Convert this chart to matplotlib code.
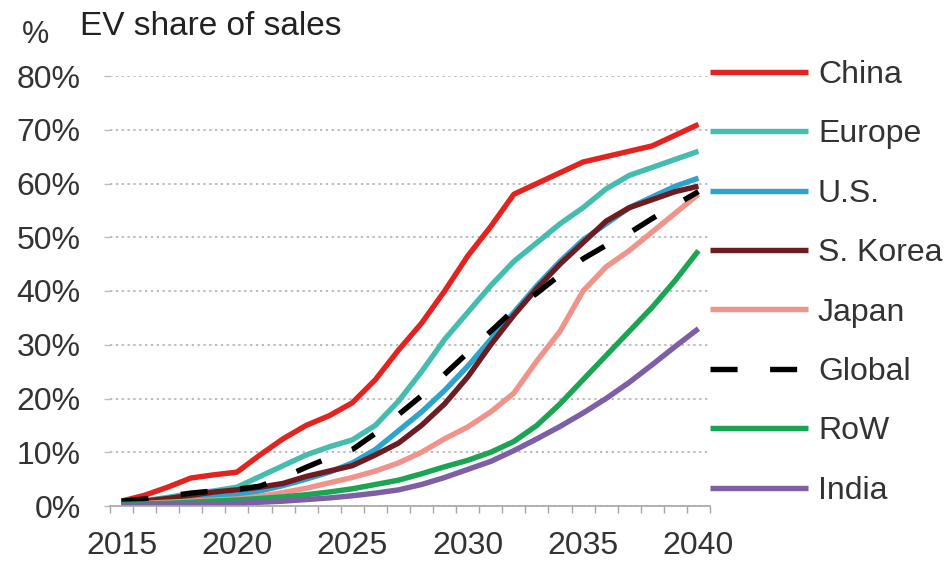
import matplotlib
matplotlib.use('Agg')
import matplotlib.pyplot as plt
from matplotlib.ticker import FixedLocator, FuncFormatter

plt.rcParams['font.family'] = ['Liberation Sans', 'DejaVu Sans']

YEARS = list(range(2015, 2041))

CHINA = [0.9, 2.0, 3.5, 5.2, 5.8, 6.3, 9.5, 12.5, 15.0, 16.8, 19.2, 23.5, 29.0, 34.0,
         40.0, 46.5, 52.0, 58.0, 60.0, 62.0, 64.0, 65.0, 66.0, 67.0, 69.0, 71.0]
EUROPE = [0.6, 1.0, 1.6, 2.3, 2.8, 3.5, 5.5, 7.5, 9.5, 11.0, 12.3, 15.0, 19.5, 25.0,
          31.0, 36.0, 41.0, 45.5, 49.0, 52.5, 55.5, 59.0, 61.5, 63.0, 64.5, 66.0]
US = [0.5, 0.8, 1.1, 1.4, 1.7, 2.0, 2.8, 3.8, 5.0, 6.3, 8.0, 10.5, 14.0, 17.5,
      21.5, 26.0, 31.0, 36.0, 41.0, 45.5, 49.5, 52.5, 55.5, 57.5, 59.5, 61.0]
S_KOREA = [0.5, 0.9, 1.4, 2.0, 2.6, 3.0, 3.5, 4.2, 5.5, 6.5, 7.5, 9.5, 11.7, 15.0,
           19.0, 24.0, 30.0, 35.5, 40.5, 45.0, 49.0, 53.0, 55.5, 57.0, 58.5, 59.5]
JAPAN = [0.3, 0.5, 0.7, 0.9, 1.1, 1.3, 1.8, 2.5, 3.3, 4.3, 5.3, 6.5, 8.0, 10.0,
         12.5, 14.7, 17.5, 21.0, 27.0, 32.5, 40.0, 44.5, 47.5, 51.0, 54.5, 58.0]
GLOBAL = [0.9, 1.3, 1.8, 2.4, 2.8, 3.1, 3.7, 5.3, 7.2, 9.0, 10.5, 13.5, 17.0, 20.5,
          24.5, 28.5, 32.5, 36.5, 39.6, 43.0, 46.0, 48.5, 50.8, 53.5, 56.0, 58.5]
ROW = [0.3, 0.4, 0.5, 0.7, 0.9, 1.1, 1.4, 1.7, 2.1, 2.6, 3.2, 4.0, 4.8, 6.0,
       7.3, 8.5, 10.0, 12.0, 15.0, 19.0, 23.5, 28.0, 32.5, 37.0, 42.0, 47.5]
INDIA = [0.1, 0.15, 0.2, 0.3, 0.4, 0.5, 0.7, 0.9, 1.2, 1.5, 1.9, 2.4, 3.0, 4.0,
         5.3, 6.8, 8.3, 10.3, 12.5, 14.8, 17.3, 20.0, 23.0, 26.3, 29.7, 33.0]

SERIES = [
    ("China", CHINA, '#e3231f', '-'),
    ("Europe", EUROPE, '#45bdae', '-'),
    ("U.S.", US, '#2ea3cc', '-'),
    ("S. Korea", S_KOREA, '#6e1c22', '-'),
    ("Japan", JAPAN, '#f0938a', '-'),
    ("Global", GLOBAL, '#000000', (0, (5, 6))),
    ("RoW", ROW, '#1ba553', '-'),
    ("India", INDIA, '#7e5fa6', '-'),
]

Y_TICKS = [0, 10, 20, 30, 40, 50, 60, 70, 80]
X_LABEL_YEARS = [2015, 2020, 2025, 2030, 2035, 2040]

fig = plt.figure(figsize=(9.52, 5.65), dpi=100)
ax = fig.add_axes([110 / 952, 1 - 506 / 565, 600 / 952, 430 / 565])

for name, values, color, ls in SERIES:
    ax.plot(YEARS, values, color=color, lw=3.9, linestyle=ls, label=name,
            solid_capstyle='butt')

ax.set_xlim(2014.5, 2040.5)
ax.set_ylim(0, 80)

ax.yaxis.set_major_locator(FixedLocator(Y_TICKS))
ax.yaxis.set_major_formatter(FuncFormatter(lambda v, p: f'{int(v)}%'))
ax.xaxis.set_major_locator(FixedLocator(X_LABEL_YEARS))
ax.xaxis.set_minor_locator(FixedLocator([y - 0.5 for y in YEARS] + [2040.5]))

ax.grid(axis='y', color='#bdbdbd', linestyle=(0, (1.2, 1.8)), lw=1.4)
ax.set_axisbelow(True)

for side in ['left', 'right', 'top']:
    ax.spines[side].set_visible(False)
ax.spines['bottom'].set_color('#a6a6a6')
ax.spines['bottom'].set_linewidth(1.2)

ax.tick_params(axis='x', which='major', length=0, pad=18, labelsize=23,
               labelcolor='#333333')
ax.tick_params(axis='x', which='minor', length=5, width=1, color='#a6a6a6')
ax.tick_params(axis='y', length=4, width=1, color='#bdbdbd', pad=17,
               labelsize=23, labelcolor='#333333')

fig.text(22 / 952, 1 - 43 / 565, '%', fontsize=22, color='#333333', va='baseline')
fig.text(80 / 952, 1 - 35 / 565, 'EV share of sales', fontsize=24,
         color='#222222', va='baseline')

fig.legend(loc='upper left', bbox_to_anchor=(710 / 952, 1 - 60 / 565),
           frameon=False, fontsize=23, handlelength=3.07, handletextpad=0.31,
           labelspacing=0.92, borderpad=0, borderaxespad=0,
           labelcolor='#333333')

fig.savefig('out.png', dpi=100, facecolor='white')
